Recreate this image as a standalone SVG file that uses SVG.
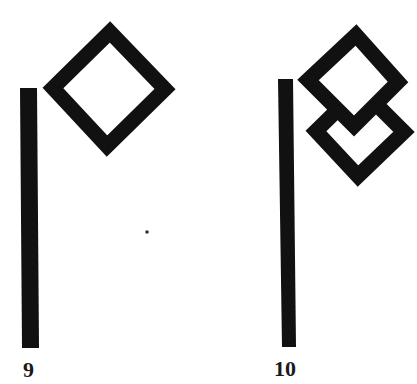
<svg xmlns="http://www.w3.org/2000/svg" width="417" height="384" viewBox="0 0 417 384">
<style>
.bar{fill:#111}
.dia{fill:#fff;stroke:#111;stroke-width:15;stroke-linejoin:miter}
.lbl{font-family:"Liberation Serif",serif;font-weight:bold;font-size:22px;fill:#1a1a1a}
</style>
<rect width="417" height="384" fill="#fff"/>
<g id="fig9">
<polygon class="bar" points="20,88 37,88 39,348 22,348"/>
<polygon class="dia" points="110,32 165,89 107,146 53,88"/>
<text class="lbl" x="23" y="377">9</text>
</g>
<g id="fig10">
<polygon class="bar" points="278,79 293,79 296,347 282,347"/>
<polygon class="dia" points="360,88 404,132 358,176 316,131"/>
<polygon class="dia" points="356,35 398,82 354,126 308,80"/>
<text class="lbl" x="274" y="376">10</text>
</g>
<circle cx="147" cy="232" r="1.8" fill="#333"/>
</svg>
